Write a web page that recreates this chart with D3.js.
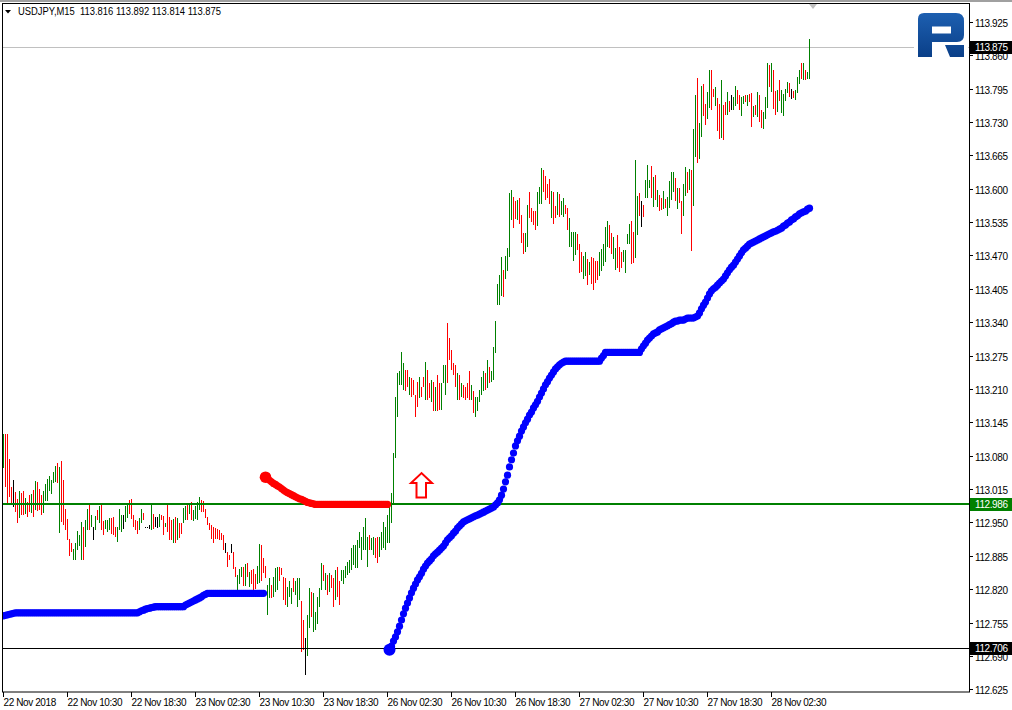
<!DOCTYPE html>
<html><head><meta charset="utf-8">
<script src="https://cdn.jsdelivr.net/npm/d3@7"></script>
<style>
body{margin:0;background:#fff}
svg{display:block}
text{font-family:"Liberation Sans",Arial,sans-serif;font-size:10px;letter-spacing:-0.4px}
</style>
</head><body><svg id="c" width="1012" height="710"></svg>
<script>
const symbolTitle = "USDJPY,M15  113.816 113.892 113.814 113.875";
const timeLabels = ["22 Nov 2018","22 Nov 10:30","22 Nov 18:30","23 Nov 02:30","23 Nov 10:30","23 Nov 18:30","26 Nov 02:30","26 Nov 10:30","26 Nov 18:30","27 Nov 02:30","27 Nov 10:30","27 Nov 18:30","28 Nov 02:30"];
const timeTickBars = [0,32,64,96,128,160,192,224,256,288,320,352,384];
const priceTicks = ["112.625","112.690","112.755","112.820","112.885","112.950","113.015","113.080","113.145","113.210","113.275","113.340","113.405","113.470","113.535","113.600","113.665","113.730","113.795","113.860","113.925"];

const highs = [
113.122,113.122,113.122,113.074,113.019,113.033,113.009,112.996,113.011,113.007,
113.011,112.998,112.990,113.003,113.006,113.013,113.030,113.029,113.016,113.003,
113.011,113.024,113.035,113.040,113.033,113.048,113.059,113.065,113.058,113.070,
113.033,112.977,112.957,112.918,112.909,112.899,112.909,112.933,112.925,112.951,
112.941,112.954,112.977,112.983,112.964,112.941,112.962,112.974,112.981,112.983,
112.952,112.955,112.955,112.959,112.959,112.961,112.941,112.941,112.977,112.964,
112.965,112.981,112.988,112.993,112.995,112.965,112.954,112.952,112.959,112.977,
112.968,112.942,112.941,112.944,112.987,112.967,112.961,112.961,112.967,112.965,
112.962,112.949,112.983,112.961,112.954,112.957,112.961,112.959,112.949,112.949,
112.978,112.982,112.983,112.987,112.990,112.974,112.982,112.990,112.999,112.993,
112.992,112.977,112.961,112.948,112.944,112.942,112.940,112.938,112.935,112.929,
112.925,112.909,112.892,112.886,112.907,112.892,112.863,112.847,112.860,112.864,
112.864,112.869,112.870,112.853,112.857,112.860,112.850,112.865,112.907,
112.906,112.880,112.865,112.828,112.841,112.828,112.843,112.861,112.864,112.864,
112.861,112.844,112.841,112.825,112.835,112.822,112.841,112.835,112.841,112.841,
112.797,112.760,112.724,112.770,112.822,112.815,112.812,112.776,112.805,112.822,
112.870,112.867,112.851,112.848,112.851,112.848,112.841,112.857,112.864,112.835,
112.857,112.857,112.865,112.873,112.877,112.900,112.906,112.906,112.916,112.932,
112.922,112.942,112.958,112.922,112.925,112.919,112.922,112.919,112.922,112.922,
112.932,112.951,112.942,112.964,112.987,113.007,113.085,113.195,
113.240,113.244,113.281,113.260,113.247,113.247,113.234,113.231,113.227,113.198,
113.224,113.234,113.214,113.234,113.263,113.247,113.221,113.227,113.224,113.214,
113.237,113.221,113.221,113.257,113.257,113.338,113.309,113.286,113.260,113.257,
113.240,113.237,113.221,113.218,113.214,113.221,113.244,113.218,113.205,113.195,
113.195,113.208,113.234,113.244,113.240,113.266,113.253,113.244,113.292,113.343,
113.414,113.431,113.466,113.442,113.468,113.484,113.591,113.597,113.584,113.576,
113.578,113.581,113.549,113.513,113.513,113.569,113.593,113.562,113.556,113.556,
113.594,113.604,113.641,113.636,113.625,113.610,113.619,113.595,113.593,113.567,
113.594,113.589,113.575,113.582,113.569,113.562,113.542,113.515,113.515,113.515,
113.511,113.492,113.476,113.468,113.476,113.463,113.458,113.466,113.464,113.459,
113.459,113.477,113.483,113.492,113.526,113.537,113.529,113.513,113.505,113.485,
113.510,113.487,113.477,113.481,113.481,113.511,113.531,113.537,113.516,113.656,
113.586,113.591,113.576,113.568,113.617,113.647,113.617,113.645,113.623,113.627,
113.597,113.588,113.582,113.595,113.580,113.584,113.614,113.632,113.632,113.620,
113.601,113.601,
113.575,113.610,113.643,113.633,113.638,113.636,113.717,113.782,113.815,113.727,
113.800,113.804,113.765,113.789,113.832,113.832,113.795,113.797,113.776,113.765,
113.812,113.763,113.769,113.789,113.771,113.782,113.779,113.799,113.793,113.782,
113.779,113.780,113.782,113.782,113.784,113.787,113.760,113.763,113.789,113.782,
113.753,113.750,113.779,113.844,113.841,113.844,113.832,113.791,113.792,113.812,
113.793,113.784,113.795,113.808,113.806,113.795,113.791,113.792,113.818,113.832,
113.844,113.845,113.832,113.828,113.892];

const lows = [
113.055,113.019,112.987,112.999,112.987,112.980,112.970,112.949,112.959,112.965,
112.965,112.967,112.961,112.970,112.968,112.961,112.974,112.972,112.975,112.964,
112.968,112.992,112.992,113.011,113.006,113.026,113.029,113.026,112.929,112.951,
112.944,112.935,112.916,112.884,112.892,112.876,112.876,112.897,112.905,112.876,
112.877,112.902,112.936,112.935,112.941,112.915,112.935,112.954,112.948,112.935,
112.925,112.938,112.931,112.935,112.928,112.925,112.922,112.912,112.935,112.931,
112.938,112.951,112.959,112.966,112.957,112.941,112.935,112.928,112.935,112.948,
112.954,112.940,112.939,112.938,112.935,112.938,112.941,112.940,112.941,112.955,
112.925,112.941,112.931,112.915,112.915,112.910,112.910,112.915,112.920,112.928,
112.948,112.954,112.954,112.966,112.954,112.953,112.957,112.954,112.974,112.970,
112.970,112.959,112.944,112.935,112.918,112.910,112.918,112.918,112.915,112.916,
112.896,112.891,112.864,112.876,112.890,112.860,112.844,112.816,112.831,112.844,
112.827,112.827,112.844,112.825,112.831,112.819,112.821,112.831,112.832,
112.835,112.851,112.841,112.770,112.802,112.802,112.805,112.815,112.818,112.835,
112.848,112.799,112.789,112.786,112.805,112.792,112.815,112.809,112.786,112.799,
112.698,112.702,112.653,112.689,112.744,112.766,112.737,112.741,112.753,112.786,
112.818,112.835,112.818,112.809,112.815,112.822,112.786,112.799,112.805,112.789,
112.835,112.831,112.841,112.848,112.851,112.857,112.867,112.861,112.861,112.900,
112.877,112.896,112.896,112.864,112.896,112.896,112.887,112.880,112.870,112.883,
112.896,112.900,112.896,112.909,112.909,112.948,112.984,113.075,
113.156,113.218,113.218,113.208,113.205,113.214,113.198,113.195,113.198,113.156,
113.175,113.192,113.195,113.214,113.188,113.188,113.192,113.185,113.166,113.166,
113.166,113.169,113.169,113.221,113.198,113.221,113.266,113.247,113.237,113.214,
113.188,113.188,113.195,113.192,113.188,113.192,113.188,113.188,113.163,113.156,
113.166,113.185,113.198,113.205,113.208,113.211,113.221,113.224,113.227,113.280,
113.373,113.373,113.390,113.388,113.425,113.440,113.466,113.539,113.524,113.540,
113.539,113.532,113.495,113.472,113.477,113.487,113.543,113.536,113.529,113.519,
113.528,113.571,113.571,113.594,113.578,113.581,113.571,113.542,113.531,113.542,
113.549,113.545,113.549,113.545,113.550,113.519,113.487,113.487,113.459,113.471,
113.481,113.435,113.437,113.425,113.429,113.412,113.432,113.414,113.403,113.416,
113.422,113.429,113.440,113.450,113.458,113.487,113.485,113.472,113.463,113.442,
113.445,113.437,113.446,113.458,113.435,113.492,113.492,113.453,113.455,113.464,
113.510,113.547,113.526,113.545,113.581,113.582,113.602,113.582,113.565,113.578,
113.565,113.556,113.559,113.561,113.562,113.547,113.563,113.578,113.593,113.575,
113.561,113.573,
113.512,113.547,113.586,113.591,113.598,113.479,113.566,113.661,113.649,113.657,
113.700,113.741,113.724,113.735,113.758,113.754,113.779,113.761,113.713,113.696,
113.698,113.695,113.743,113.743,113.750,113.753,113.754,113.761,113.765,113.754,
113.741,113.765,113.769,113.761,113.769,113.721,113.739,113.743,113.740,113.729,
113.719,113.717,113.735,113.758,113.797,113.789,113.756,113.743,113.750,113.771,
113.747,113.741,113.771,113.786,113.779,113.774,113.776,113.773,113.786,113.804,
113.813,113.812,113.812,113.813,113.814];

// 1 = bullish, -1 = bearish, 0 = unchanged
const dirs = [
1,-1,-1,-1,-1,0,-1,-1,1,-1, -1,1,-1,-1,1,-1,1,-1,-1,-1, 1,1,1,1,1,1,1,-1,1,-1,
-1,-1,-1,-1,-1,1,1,1,1,1, -1,1,1,-1,1,0,1,-1,1,-1, -1,1,1,1,-1,-1,-1,1,1,1,
0,1,1,-1,-1,-1,-1,-1,1,1, -1,0,0,0,1,-1,0,0,1,-1, -1,1,-1,-1,-1,1,-1,1,-1,-1,
1,1,-1,1,-1,1,1,1,1,-1, -1,-1,-1,-1,-1,-1,-1,-1,-1,-1, -1,0,-1,-1,0,-1,-1,1,1,1,
-1,1,-1,1,-1,-1,-1,1,1,
-1,-1,-1,1,1,-1,1,1,1,-1, -1,-1,-1,1,1,1,-1,1,1,1, -1,-1,0,1,1,-1,1,1,1,1,
1,-1,1,-1,1,-1,-1,1,-1,-1, 1,1,1,1,1,1,1,1,1,1, 1,1,1,1,-1,1,1,-1,-1,1,
1,1,1,1,1,1,1,1,
1,1,1,1,-1,-1,1,-1,-1,-1, -1,1,-1,-1,1,-1,-1,1,-1,1, -1,-1,1,1,1,-1,-1,-1,-1,-1,
1,-1,1,-1,-1,-1,-1,1,-1,1, 1,1,1,1,-1,1,-1,1,1,1,
1,1,1,-1,1,1,1,1,-1,-1, 1,-1,-1,-1,1,1,-1,-1,-1,-1, 1,1,1,-1,-1,-1,-1,1,-1,-1,
1,-1,1,1,-1,-1,1,1,1,1, -1,-1,-1,1,1,-1,1,-1,-1,-1, -1,1,1,1,1,1,-1,-1,1,1,
-1,-1,-1,1,1,1,1,-1,-1,1, 1,-1,0,-1,1,1,1,-1,1,-1, 1,-1,-1,1,-1,1,1,1,1,-1,
1,-1,
-1,1,1,-1,1,-1,1,1,-1,1, 1,-1,-1,1,1,-1,-1,1,-1,-1, 1,-1,-1,1,-1,0,1,1,-1,-1,
1,1,-1,1,-1,-1,1,-1,1,-1, -1,1,1,1,-1,1,-1,-1,1,-1, 1,1,1,1,-1,0,-1,1,1,1,
-1,1,-1,1,1];

// trailing-stop dots (one per bar)
const blueStopAStart = 0;
const blueStopA = [
112.768,112.769,112.770,112.771,112.772,112.773,
112.774,112.774,112.774,112.774,112.774,112.774,112.774,112.774,112.774,112.774,
112.774,112.774,112.774,112.774,112.774,112.774,112.774,112.774,112.774,112.774,
112.774,112.774,112.774,112.774,112.774,112.774,112.774,112.774,112.774,112.774,
112.774,112.774,112.774,112.774,112.774,112.774,112.774,112.774,112.774,112.774,
112.774,112.774,112.774,112.774,112.774,112.774,112.774,112.774,112.774,112.774,
112.774,112.774,112.774,112.774,112.774,112.774,112.774,112.774,112.774,112.774,
112.774,112.774,
112.776,112.778,112.779,112.781,112.782,112.783,112.784,112.785,112.786,
112.786,112.786,112.786,112.786,112.786,112.786,112.786,112.786,112.786,112.786,
112.786,112.786,112.786,112.786,
112.789,112.791,112.793,112.795,112.797,112.799,112.801,112.803,112.805,112.808,112.810,112.812,
112.812,112.812,112.812,112.812,112.812,112.812,112.812,112.812,112.812,112.812,
112.812,112.812,112.812,112.812,112.812,112.812,112.812,112.812,112.812,112.812,
112.812,112.812,112.812,112.812,112.812,112.812,112.812,112.812];

const redStopStart = 131;
const redStop = [
113.038,113.035,113.032,113.029,113.026,113.024,113.021,113.019,113.016,113.013,
113.010,113.008,113.006,113.004,113.002,113.000,112.998,112.996,112.995,112.993,
112.991,112.989,112.988,112.987,112.986,
112.985,112.985,112.985,112.985,112.985,112.985,112.985,112.985,112.985,112.985,
112.985,112.985,112.985,112.985,112.985,112.985,112.985,112.985,112.985,112.985,
112.985,112.985,112.985,112.985,112.985,112.985,112.985,112.985,112.985,112.985,
112.985,112.985,112.985,112.985,112.985,112.985,112.985];

const blueStopBStart = 193;
const blueStopB = [
112.702,112.709,112.719,112.727,112.737,112.748,112.760,112.772,112.783,112.793,
112.803,112.813,112.822,112.830,112.838,112.844,112.851,112.859,112.865,112.871,
112.875,112.879,112.885,112.889,112.892,112.896,112.900,112.904,112.910,112.916,
112.920,112.924,112.929,112.933,112.939,112.943,112.947,112.951,112.953,112.955,
112.957,112.959,112.961,112.963,112.964,112.966,112.968,112.970,112.972,112.974,
112.976,112.978,112.980,112.984,112.988,112.994,113.003,113.015,113.029,113.042,
113.058,113.072,113.085,113.099,113.109,113.118,113.128,113.136,113.144,113.151,
113.159,113.165,113.173,113.179,113.186,113.194,113.202,113.210,113.218,113.224,
113.231,113.237,113.243,113.249,113.253,113.257,113.260,113.262,113.264,
113.264,113.264,113.264,113.264,113.264,113.264,113.264,113.264,113.264,113.264,
113.264,113.264,113.264,113.264,113.264,113.264,113.264,
113.270,113.275,
113.281,113.281,113.281,113.281,113.281,113.281,113.281,113.281,113.281,113.281,
113.281,113.281,113.281,113.281,113.281,113.281,113.281,113.281,
113.288,113.294,113.299,113.305,113.309,113.313,113.317,113.319,113.321,113.325,
113.327,113.329,113.331,113.333,113.335,113.337,113.340,113.342,113.342,113.344,
113.344,113.344,113.346,113.348,113.348,113.348,113.348,113.350,113.352,113.358,
113.366,113.373,113.379,113.387,113.395,113.401,113.405,113.408,113.412,113.416,
113.420,113.424,113.430,113.436,113.442,113.447,113.451,113.457,113.463,113.469,
113.475,113.481,113.484,113.488,113.492,113.494,113.496,113.498,113.500,113.502,
113.504,113.506,113.508,113.510,113.512,113.514,113.516,113.517,113.519,113.521,
113.523,113.527,113.529,113.533,113.535,113.539,113.541,113.545,113.547,113.551,
113.553,113.555,113.556,113.560,113.562];

const bidPrice = 113.875;
const levelGreen = 112.986;
const levelBlack = 112.706;
const arrowBar = 209, arrowPrice = 113.046;

const svg = d3.select("#c");
const x = d3.scaleLinear().domain([0, 403]).range([3.5, 809.5]);
const y = d3.scaleLinear().domain([112.625, 113.925]).range([689.3, 21.75]);
const L = 2, R = 969, T = 3, B = 692;

// window top strip
svg.append("rect").attr("x",0).attr("y",0).attr("width",1012).attr("height",2).attr("fill","#a0a0a0");

const plot = svg.append("g");
plot.append("defs").append("clipPath").attr("id","pc").append("rect")
  .attr("x",L+1).attr("y",T+1).attr("width",R-L-1).attr("height",B-T-1);
const g = plot.append("g").attr("clip-path","url(#pc)");

// bid line
g.append("line").attr("x1",L).attr("x2",R).attr("y1",Math.round(y(bidPrice))+0.5).attr("y2",Math.round(y(bidPrice))+0.5)
  .attr("stroke","#c0c0c0").attr("stroke-width",1);

// bars
const colorOf = d => d > 0 ? "#008000" : (d < 0 ? "#ff0000" : "#000000");
g.append("g").selectAll("rect").data(highs.map((h,i)=>({i,h,l:lows[i],d:dirs[i]})))
  .join("rect")
  .attr("x", d => Math.round(x(d.i) - 0.5))
  .attr("y", d => Math.round(y(d.h)))
  .attr("width", 1)
  .attr("height", d => Math.max(1, Math.round(y(d.l)) - Math.round(y(d.h))))
  .attr("fill", d => colorOf(d.d));

// horizontal levels
g.append("line").attr("x1",L).attr("x2",R).attr("y1",y(levelGreen)).attr("y2",y(levelGreen))
  .attr("stroke","#008000").attr("stroke-width",2);
g.append("line").attr("x1",L).attr("x2",R).attr("y1",Math.round(y(levelBlack))+0.5).attr("y2",Math.round(y(levelBlack))+0.5)
  .attr("stroke","#000").attr("stroke-width",1);

// trailing stop dots
function dots(arr, start, color) {
  const gg = g.append("g");
  gg.selectAll("circle").data(arr.map((v,k)=>({i:start+k,v}))).join("circle")
    .attr("cx", d => x(d.i)).attr("cy", d => y(d.v)).attr("r", 3.6).attr("fill", color);
  return gg;
}
dots(blueStopA, blueStopAStart, "#0000ff");
dots(redStop, redStopStart, "#ff0000");
dots(blueStopB, blueStopBStart, "#0000ff");
g.append("circle").attr("cx",x(redStopStart)).attr("cy",y(redStop[0])).attr("r",5.8).attr("fill","#ff0000");
g.append("circle").attr("cx",x(blueStopBStart)).attr("cy",y(blueStopB[0])).attr("r",6).attr("fill","#0000ff");

// up arrow
const ax = x(arrowBar), ay = y(arrowPrice);
const arrowPts = [[0,0],[-10.5,10],[-5,10],[-5,24.5],[4.5,24.5],[4.5,10],[10.5,10]];
g.append("polygon").attr("points", arrowPts.map(p => [ax+p[0], ay+p[1]].join(",")).join(" "))
  .attr("fill","#fff").attr("stroke","#ff0000").attr("stroke-width",2).attr("stroke-linejoin","miter");

// chart shift marker
svg.append("polygon").attr("points","809,4 817,4 813,9").attr("fill","#c0c0c0");

// logo
const defs = svg.append("defs");
const lg = defs.append("linearGradient").attr("id","lg").attr("x1",0).attr("y1",0).attr("x2",0).attr("y2",1);
lg.append("stop").attr("offset","0%").attr("stop-color","#1d5fb0");
lg.append("stop").attr("offset","100%").attr("stop-color","#0a3f88");
svg.append("rect").attr("x",914).attr("y",10).attr("width",54).attr("height",50).attr("fill","#fff");
svg.append("path")
  .attr("d","M918,57 V19 Q918,13 924,13 H956 Q964,13 964,21 V35 Q964,42 957,42 H932 V57 Z M932,26.5 H951 V33.5 H932 Z M945,45 H964 V57 H950 Z")
  .attr("fill","url(#lg)").attr("fill-rule","evenodd");

// frame
svg.append("rect").attr("x",L+0.5).attr("y",T+0.5).attr("width",R-L).attr("height",B-T-0.5)
  .attr("fill","none").attr("stroke","#000").attr("stroke-width",1);

// price axis
const ax2 = svg.append("g");
priceTicks.forEach(t => {
  const v = +t, yy = Math.round(y(v)) + 0.5;
  ax2.append("line").attr("x1",R).attr("x2",R+4).attr("y1",yy).attr("y2",yy).attr("stroke","#000");
  ax2.append("text").attr("x",R+6).attr("y",yy+4).attr("fill","#000").text(t);
});
function tag(v, bg) {
  const yy = y(v);
  ax2.append("rect").attr("x",R+1).attr("y",Math.round(yy)-6).attr("width",1012-R-1).attr("height",13).attr("fill",bg);
  ax2.append("text").attr("x",R+6).attr("y",Math.round(yy)+4).attr("fill","#fff").text(d3.format(".3f")(v));
}
tag(bidPrice, "#000");
tag(levelGreen, "#008000");
tag(levelBlack, "#000");

// time axis
const tx = svg.append("g");
timeTickBars.forEach((b,k) => {
  const xx = Math.round(x(b) - 0.5) + 0.5;
  tx.append("line").attr("x1",xx).attr("x2",xx).attr("y1",B).attr("y2",B+5).attr("stroke","#000");
  tx.append("text").attr("x",xx).attr("y",706).attr("fill","#000").text(timeLabels[k]);
});

// title
svg.append("polygon").attr("points","5,10 11,10 8,13.5").attr("fill","#000");
svg.append("text").attr("x",18).attr("y",15).attr("fill","#000").attr("xml:space","preserve")
  .attr("textLength",203).attr("lengthAdjust","spacingAndGlyphs").style("letter-spacing","0").text(symbolTitle);
</script>
</body></html>
